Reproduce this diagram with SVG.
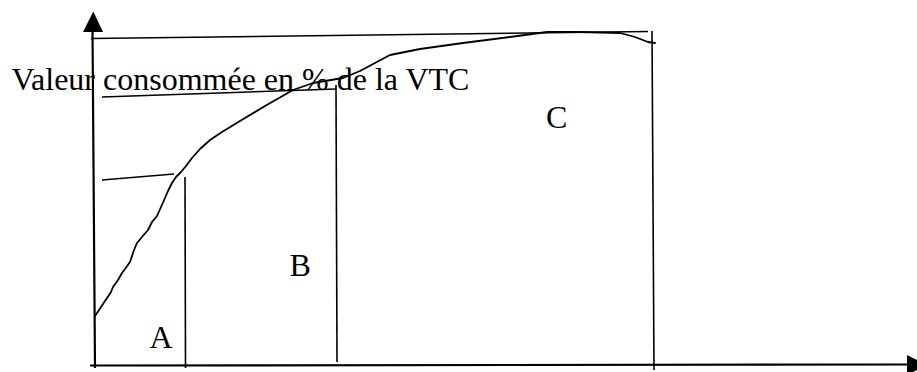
<svg xmlns="http://www.w3.org/2000/svg" width="917" height="372" viewBox="0 0 917 372">
<style>
.ln{stroke:#000;stroke-width:1.6;fill:none;stroke-linecap:butt}
.ax{stroke:#000;stroke-width:2.2;fill:none}
.cv{stroke:#000;stroke-width:1.8;fill:none;stroke-linejoin:round;stroke-linecap:round}
.t{font-family:"Liberation Serif","Times New Roman",serif;font-size:32px;fill:#000}
</style>
<rect width="917" height="372" fill="#fff"/>
<g id="axes">
<line class="ax" x1="92.5" y1="30" x2="95" y2="368"/>
<polygon points="93.3,11.5 83,32 103,32" fill="#000"/>
<line class="ax" x1="90" y1="365.5" x2="908" y2="364.5"/>
<polygon points="907,355 927,365 907,375" fill="#000"/>
</g>
<g id="grid">
<line class="ln" x1="91" y1="38.5" x2="648" y2="31.5"/>
<line class="ln" x1="652" y1="31" x2="654" y2="370"/>
<line class="ln" x1="102" y1="97" x2="336" y2="89"/>
<line class="ln" x1="336" y1="85" x2="337" y2="362"/>
<line class="ln" x1="102" y1="180" x2="174" y2="174"/>
<line class="ln" x1="185" y1="177" x2="185.5" y2="368"/>
</g>
<g id="curve">
<polyline class="cv" points="95,316 103,304 111,292 113,287 118,280 122,273 125,269 130,262 134,250 137,243 142,237 148,230 152,222 157,216 161,207 165,198 168,191 172,183 176,177 181,172 186,166 192,158 200,149 210,140 222,132 240,121 265,106 293,90 313,83 343,78 360,71 375,63 390,55 420,49 463,43 510,37 547,32 580,32 620,33 635,37 648,42 655,43"/>
</g>
<g id="labels">
<text class="t" x="11.5" y="89.5">Valeur consommée en % de la VTC</text>
<text class="t" x="149.5" y="348">A</text>
<text class="t" x="289.5" y="276">B</text>
<text class="t" x="546" y="128">C</text>
</g>
</svg>
